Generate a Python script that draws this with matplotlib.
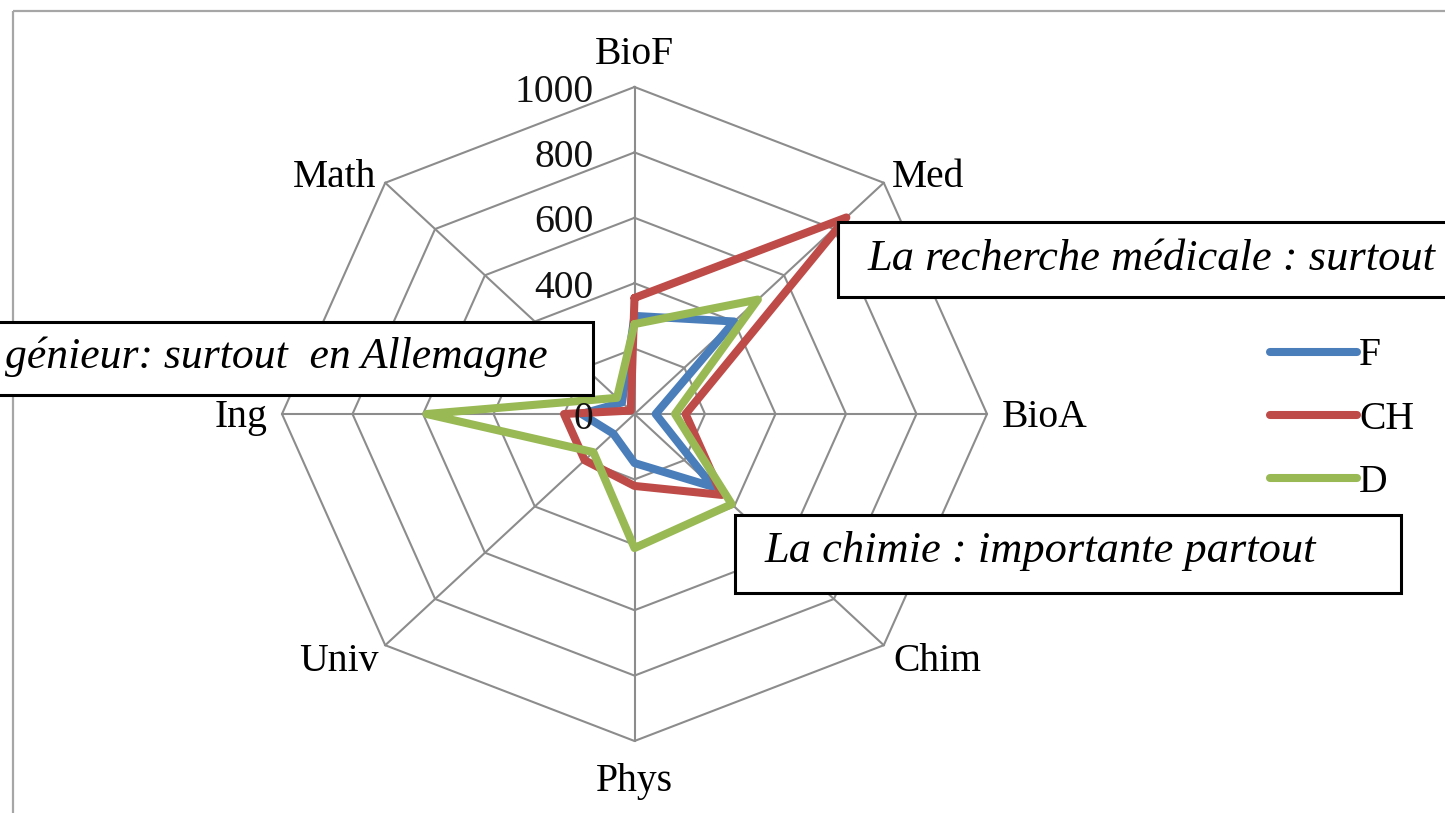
import numpy as np
import matplotlib
matplotlib.use("Agg")
import matplotlib.pyplot as plt
from matplotlib.patches import Rectangle

# ---- data ----
categories = ["BioF", "Med", "BioA", "Chim", "Phys", "Univ", "Ing", "Math"]
series_names = ["F", "CH", "D"]
values_F = [300, 400, 60, 315, 150, 85, 150, 50]
values_CH = [355, 850, 145, 350, 220, 200, 200, 15]
values_D = [275, 495, 115, 390, 410, 165, 590, 70]
r_ticks = [0, 200, 400, 600, 800, 1000]
colors = ["#4a7ebb", "#be4b48", "#98b954"]
annotations = [
    "La recherche médicale : surtout",
    "génieur: surtout  en Allemagne",
    "La chimie : importante partout",
]

W, H = 1445, 813
plt.rcParams['font.family'] = ['Liberation Serif', 'DejaVu Serif']
fig = plt.figure(figsize=(W / 100, H / 100), dpi=100)
fig.patch.set_facecolor("white")

# polar axes placement (pixels)
cx, cy = 634.5, 414.0
rx, ry = 352.5, 327.0
ax = fig.add_axes([(cx - rx) / W, (H - cy - ry) / H, 2 * rx / W, 2 * ry / H],
                  projection="polar")
ax.set_aspect("auto")
ax.set_theta_zero_location("N")
ax.set_theta_direction(-1)
ax.set_ylim(0, 1000)
ax.set_xticks([])
ax.set_yticks([])
ax.grid(False)
ax.spines["polar"].set_visible(False)
ax.patch.set_facecolor("none")

n = len(categories)
theta = np.deg2rad(np.arange(n) * 360.0 / n)
theta_c = np.append(theta, theta[0])

grid_color = "#8c8c8c"
for r in r_ticks[1:]:
    ax.plot(theta_c, [r] * (n + 1), color=grid_color, lw=1.5, clip_on=False, zorder=1)
for t in theta:
    ax.plot([t, t], [0, r_ticks[-1]], color=grid_color, lw=1.5, clip_on=False, zorder=1)

lines = []
for name, vals, col in zip(series_names, [values_F, values_CH, values_D], colors):
    v = np.append(vals, vals[0])
    ln, = ax.plot(theta_c, v, color=col, lw=5.8, clip_on=False, zorder=3,
                  solid_joinstyle="round", solid_capstyle="round", label=name)
    lines.append(ln)

FS = 28.5
# category labels
label_offsets = {
    "BioF": (0, 32, "center", "center"),
    "Med": (8, 5, "left", "center"),
    "BioA": (15, -3, "left", "center"),
    "Chim": (10, -16, "left", "center"),
    "Phys": (0, -40, "center", "center"),
    "Univ": (-7, -16, "right", "center"),
    "Ing": (-14, -3, "right", "center"),
    "Math": (-9, 5, "right", "center"),
}
for t, cat in zip(theta, categories):
    dx, dy, ha, va = label_offsets[cat]
    ax.annotate(cat, xy=(t, r_ticks[-1]), xytext=(dx, dy), textcoords="offset pixels",
                ha=ha, va=va, fontsize=FS, color="black", annotation_clip=False)

# radial tick labels (drawn over the series, as in the reference)
for r in r_ticks:
    ax.annotate(str(r), xy=(0, r), xytext=(-41, -5), textcoords="offset pixels",
                ha="right", va="center", fontsize=FS, color="#111111",
                annotation_clip=False, zorder=4)

# overlay for frame, boxes, legend
ov = fig.add_axes([0, 0, 1, 1])
ov.set_xlim(0, W)
ov.set_ylim(H, 0)
ov.axis("off")
ov.set_zorder(5)

# outer frame (top and left edges visible)
ov.add_patch(Rectangle((13, 11), 2000, 1000, fill=False, edgecolor="#a6a6a6", lw=1.6,
                       clip_on=False))

boxes = [
    ((838, 222), 700, 75, (868, 259), "left", 32),
    ((-50, 322), 643, 73, (548, 357), "right", 31.4),
    ((735, 515), 666, 78, (765, 551), "left", 32),
]
for (xy, bw, bh, txy, ha, fs), txt in zip(boxes, annotations):
    ov.add_patch(Rectangle(xy, bw, bh, facecolor="white", edgecolor="black", lw=2.2,
                           clip_on=False, zorder=6))
    ov.text(txy[0], txy[1], txt, ha=ha, va="center", fontsize=fs, style="italic",
            color="black", zorder=7)

leg = ov.legend(handles=lines, labels=series_names, loc="center left",
                bbox_to_anchor=(1270, 419), bbox_transform=ov.transData,
                frameon=False, borderpad=0, borderaxespad=0, fontsize=FS,
                handlelength=2.2, handletextpad=0.05, labelspacing=0.66)
leg.set_zorder(8)

fig.savefig("out.png", dpi=100, facecolor="white")
